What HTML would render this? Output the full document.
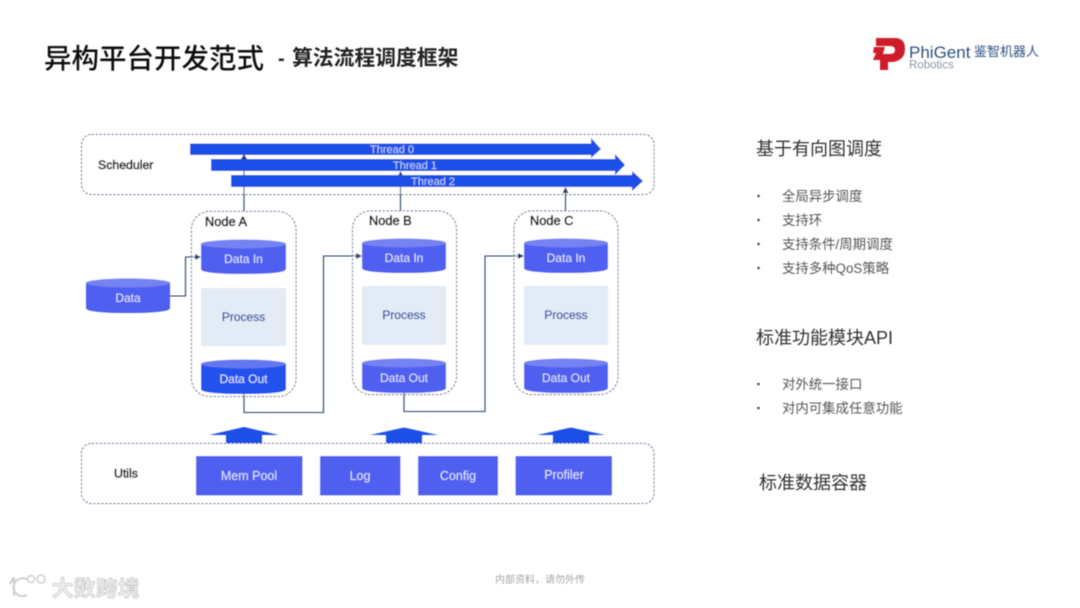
<!DOCTYPE html>
<html><head><meta charset="utf-8"><style>
html,body{margin:0;padding:0;background:#fff;width:1080px;height:608px;overflow:hidden}
svg{display:block}
text{font-family:"Liberation Sans","Noto Sans CJK SC",sans-serif}
.lb{stroke:#111;stroke-width:.55px}
</style></head><body>
<svg width="1080" height="608" viewBox="0 0 1080 608" xmlns="http://www.w3.org/2000/svg">
<defs>
<marker id="m" markerWidth="6" markerHeight="6" refX="5" refY="3" orient="auto" markerUnits="userSpaceOnUse"><path d="M0,0L6,3L0,6Z" fill="#27406f"/></marker>
<filter id="b" x="-5%" y="-5%" width="110%" height="110%"><feGaussianBlur stdDeviation="0.45"/></filter>
</defs>
<rect width="1080" height="608" fill="#fff"/>
<g filter="url(#b)">
<text x="44" y="68" font-size="27.500" font-weight="500" fill="#111">异构平台开发范式</text>
<text x="278" y="65" font-size="20" font-weight="700" fill="#222">-</text>
<text x="292" y="65" font-size="20.800" font-weight="700" fill="#222">算法流程调度框架</text>

<path d="M876,38H895Q905,38 905,49Q905,60 893,62H888V70H880V54H890Q895,54 895,50Q895,46 890,46H876Z" fill="#cf1f2b"/>
<path d="M874,47H885L881,60H873L876,53H873Z" fill="#cf1f2b"/>
<text x="909" y="58" font-size="17" fill="#33517f">PhiGent</text>
<text x="974" y="56" font-size="13" fill="#33517f">鉴智机器人</text>
<text x="909" y="68.500" font-size="11.500" fill="#8c97a8">Robotics</text>

<rect x="81.500" y="134.500" width="572.500" height="60" rx="10" fill="#fff" stroke="#5f7092" stroke-dasharray="2.500 1.500"/>
<rect x="81.500" y="443.500" width="572.500" height="60" rx="10" fill="#fff" stroke="#5f7092" stroke-dasharray="2.500 1.500"/>
<text class="lb" x="98" y="169" font-size="12.300" fill="#111">Scheduler</text>
<text class="lb" x="114" y="477.500" font-size="12.300" fill="#111">Utils</text>

<rect x="191.500" y="211.500" width="104.500" height="185" rx="18" fill="#fff" stroke="#5f7092" stroke-dasharray="2.500 1.500"/>
<rect x="352.500" y="211" width="104" height="183.500" rx="18" fill="#fff" stroke="#5f7092" stroke-dasharray="2.500 1.500"/>
<rect x="514" y="211" width="104" height="183.500" rx="18" fill="#fff" stroke="#5f7092" stroke-dasharray="2.500 1.500"/>
<text class="lb" x="205" y="226" font-size="12.800" fill="#111">Node A</text>
<text class="lb" x="369" y="225" font-size="12.800" fill="#111">Node B</text>
<text class="lb" x="530" y="225" font-size="12.800" fill="#111">Node C</text>

<g fill="none" stroke="#27406f" stroke-width="1.100">
<path d="M244,211V156" marker-end="url(#m)"/>
<path d="M400.500,211V172" marker-end="url(#m)"/>
<path d="M565.500,211V188" marker-end="url(#m)"/>
<path d="M170,296H185.500V257H200" marker-end="url(#m)"/>
<path d="M244,394V412.500H323.500V256H361" marker-end="url(#m)"/>
<path d="M404,393V411.500H485V256H523" marker-end="url(#m)"/>
</g>

<path d="M190,143.500H591V138L601,149L591,158V155H190Z" fill="#1f4fe8"/>
<path d="M211,159H615V154L625,165L615,175V171H211Z" fill="#1f4fe8"/>
<path d="M231,175H632V171L643,181L632,191V187H231Z" fill="#1f4fe8"/>
<text x="392" y="153" font-size="11" fill="#c3d3f7" text-anchor="middle">Thread 0</text>
<text x="415" y="169" font-size="11" fill="#c3d3f7" text-anchor="middle">Thread 1</text>
<text x="433" y="185" font-size="11" fill="#c3d3f7" text-anchor="middle">Thread 2</text>
<path d="M241,159L244,154L247,159Z" fill="#27406f"/>

<g>
<path d="M86,283V308Q86,313 128,313Q170,313 170,308V283Z" fill="#4f5ff0"/><ellipse cx="128" cy="283" rx="42" ry="4.500" fill="#7482f2"/>
<path d="M201,244V269Q201,274 243.500,274Q286,274 286,269V244Z" fill="#4f5ff0"/><ellipse cx="243.500" cy="244" rx="42.500" ry="4.500" fill="#7482f2"/>
<path d="M362,243V268Q362,273 404,273Q446,273 446,268V243Z" fill="#4f5ff0"/><ellipse cx="404" cy="243" rx="42" ry="4.500" fill="#7482f2"/>
<path d="M524,243V268Q524,273 566,273Q608,273 608,268V243Z" fill="#4f5ff0"/><ellipse cx="566" cy="243" rx="42" ry="4.500" fill="#7482f2"/>
<path d="M201,364V389Q201,394 243.500,394Q286,394 286,389V364Z" fill="#2351ee"/><ellipse cx="243.500" cy="364" rx="42.500" ry="4.500" fill="#6377f0"/>
<path d="M362,363V388Q362,393 404,393Q446,393 446,388V363Z" fill="#4f5ff0"/><ellipse cx="404" cy="363" rx="42" ry="4.500" fill="#7482f2"/>
<path d="M524,363V388Q524,393 566,393Q608,393 608,388V363Z" fill="#4f5ff0"/><ellipse cx="566" cy="363" rx="42" ry="4.500" fill="#7482f2"/>
</g>
<rect x="201" y="288" width="85" height="58" fill="#e3ebf6"/>
<rect x="362" y="286" width="84" height="59" fill="#e3ebf6"/>
<rect x="524" y="286" width="84" height="59" fill="#e3ebf6"/>
<g font-size="12" text-anchor="middle" fill="#dfe5fd">
<text x="128" y="302">Data</text>
<text x="243.500" y="263">Data In</text>
<text x="404" y="262">Data In</text>
<text x="566" y="262">Data In</text>
<text x="243.500" y="383">Data Out</text>
<text x="404" y="382">Data Out</text>
<text x="566" y="382">Data Out</text>
</g>
<g font-size="12" text-anchor="middle" fill="#1c3f9e" stroke="#1c3f9e" stroke-width=".2">
<text x="243.500" y="321">Process</text>
<text x="404" y="319">Process</text>
<text x="566" y="319">Process</text>
</g>

<path d="M209,435L244,427L279,435H262V443H226V435Z" fill="#1f4fe8"/>
<path d="M370,435L404,427.500L438,435H422V443H386V435Z" fill="#1f4fe8"/>
<path d="M537,435L571,427.500L605,435H589V443H553V435Z" fill="#1f4fe8"/>

<rect x="196" y="456" width="106.500" height="39.500" fill="#4f5ff0"/>
<rect x="320" y="456" width="80.500" height="39.500" fill="#4f5ff0"/>
<rect x="418" y="456" width="80" height="39.500" fill="#4f5ff0"/>
<rect x="515.500" y="456" width="96.500" height="39.500" fill="#4f5ff0"/>
<g font-size="12.500" text-anchor="middle" fill="#dfe5fd">
<text x="249" y="480">Mem Pool</text>
<text x="360" y="480">Log</text>
<text x="458" y="480">Config</text>
<text x="564" y="479">Profiler</text>
</g>

<text x="756" y="155" font-size="18" fill="#333">基于有向图调度</text>
<g font-size="13.400" fill="#555">
<text x="782" y="201">全局异步调度</text>
<text x="782" y="225">支持环</text>
<text x="782" y="249">支持条件/周期调度</text>
<text x="782" y="273">支持多种QoS策略</text>
<text x="782" y="389">对外统一接口</text>
<text x="782" y="413">对内可集成任意功能</text>
</g>
<g fill="#444">
<circle cx="758.500" cy="196" r="1.300"/><circle cx="758.500" cy="220" r="1.300"/><circle cx="758.500" cy="244" r="1.300"/><circle cx="758.500" cy="268" r="1.300"/><circle cx="758.500" cy="384" r="1.300"/><circle cx="758.500" cy="408" r="1.300"/>
</g>
<text x="756" y="344" font-size="18" fill="#333">标准功能模块API</text>
<text x="759" y="489" font-size="18" fill="#333">标准数据容器</text>
<text x="495" y="583" font-size="10" fill="#a5a5a5">内部资料，请勿外传</text>

<g fill="none" stroke="#cfcfcf" stroke-width="2">
<path d="M13,578L10,584M14,577V596M28,580A9,9 0 1 0 27,595"/>
<circle cx="31" cy="579" r="3.500" stroke-width="1.500"/><circle cx="41" cy="579" r="4" stroke-width="1.500"/>
</g>
<text x="52" y="596" font-size="21.500" font-weight="700" fill="#efefef" stroke="#c4c4c4" stroke-width=".7" letter-spacing=".5">大数跨境</text>
</g>
</svg>
</body></html>
